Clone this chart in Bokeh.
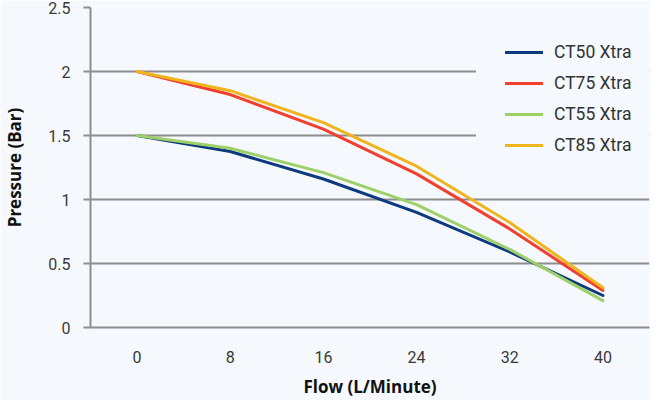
from bokeh.plotting import figure
from bokeh.models import Legend, LegendItem, BoxAnnotation, FixedTicker, Range1d
from bokeh.embed import file_html
from bokeh.resources import INLINE

# ---- data ----
flow = [0, 8, 16, 24, 32, 40]
ct50 = [1.5, 1.375, 1.16, 0.90, 0.59, 0.25]
ct75 = [2.0, 1.82, 1.55, 1.20, 0.77, 0.29]
ct55 = [1.5, 1.40, 1.21, 0.96, 0.61, 0.21]
ct85 = [2.0, 1.85, 1.60, 1.26, 0.82, 0.31]
series_names = ["CT50 Xtra", "CT75 Xtra", "CT55 Xtra", "CT85 Xtra"]
x_ticks = [0, 8, 16, 24, 32, 40]
y_ticks = [0, 0.5, 1, 1.5, 2, 2.5]
y_tick_labels = ["0", "0.5", "1", "1.5", "2", "2.5"]

# ---- styles ----
BG = "#f5f8fc"
GRID = "#8c8c8c"
colors = ["#0d3a7e", "#f23f2f", "#9ed06a", "#f0b41c"]

p = figure(width=650, height=400,
           x_range=Range1d(-4, 44), y_range=Range1d(0, 2.5),
           output_backend="svg", toolbar_location=None,
           min_border_left=89, min_border_right=1,
           min_border_top=7, min_border_bottom=73)
p.background_fill_color = BG
p.border_fill_color = BG
p.outline_line_color = None

p.xgrid.visible = False
p.ygrid.grid_line_color = GRID
p.ygrid.grid_line_width = 2
p.ygrid.ticker = FixedTicker(ticks=y_ticks)

# x axis
xa = p.xaxis[0]
xa.ticker = FixedTicker(ticks=x_ticks)
xa.axis_line_color = GRID
xa.axis_line_width = 2
xa.major_tick_line_color = None
xa.minor_tick_line_color = None
xa.major_tick_out = 0
xa.major_tick_in = 0
xa.major_label_standoff = 23
xa.major_label_text_font = "Roboto"
xa.major_label_text_font_size = "16px"
xa.major_label_text_color = "#3a3a3a"
xa.axis_label = "Flow (L/Minute)"
xa.axis_label_text_font = "Open Sans"
xa.axis_label_text_font_style = "bold"
xa.axis_label_text_font_size = "17px"
xa.axis_label_text_color = "#111111"
xa.axis_label_standoff = 9

# y axis
ya = p.yaxis[0]
ya.ticker = FixedTicker(ticks=y_ticks)
ya.major_label_overrides = {t: l for t, l in zip(y_ticks, y_tick_labels)}
ya.axis_line_color = GRID
ya.axis_line_width = 2
ya.major_tick_line_color = GRID
ya.major_tick_line_width = 2
ya.major_tick_out = 7
ya.major_tick_in = 0
ya.minor_tick_line_color = None
ya.major_label_standoff = 13
ya.major_label_text_font = "Roboto"
ya.major_label_text_font_size = "16px"
ya.major_label_text_color = "#3a3a3a"
ya.axis_label = "Pressure (Bar)"
ya.axis_label_text_font = "Open Sans"
ya.axis_label_text_font_style = "bold"
ya.axis_label_text_font_size = "17px"
ya.axis_label_text_color = "#111111"
ya.axis_label_standoff = 19

renderers = []
for ys, c in zip([ct50, ct75, ct55, ct85], colors):
    r = p.line(flow, ys, line_color=c, line_width=3, line_join="round", line_cap="round")
    renderers.append(r)

# background patch behind legend (hides the gridlines there)
cover = BoxAnnotation(left=29.1, right=44, bottom=1.32, top=2.3,
                      fill_color=BG, fill_alpha=1.0, line_color=None)
p.add_layout(cover)

legend = Legend(items=[LegendItem(label=n, renderers=[r]) for n, r in zip(series_names, renderers)],
                location=(415, 172),
                background_fill_alpha=0, border_line_color=None,
                padding=5, margin=0, spacing=11,
                glyph_width=38, glyph_height=20, label_height=20,
                label_standoff=11,
                label_text_font="Roboto", label_text_font_size="17.5px",
                label_text_color="#333333")
p.add_layout(legend)

open("out.html", "w").write(file_html(p, INLINE))
